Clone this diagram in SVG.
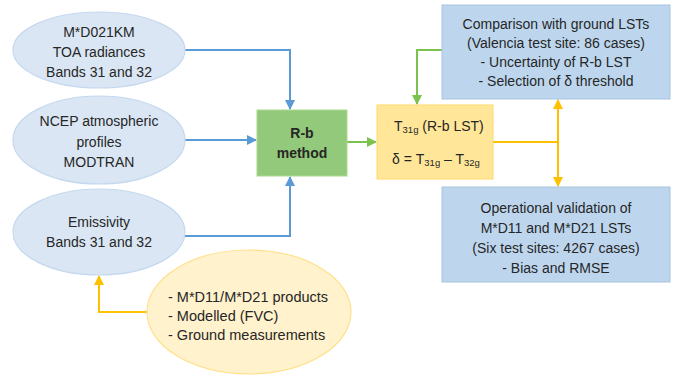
<svg xmlns="http://www.w3.org/2000/svg" width="683" height="379" viewBox="0 0 683 379">
<style>
text{font-family:"Liberation Sans",Arial,sans-serif;font-size:14px;fill:#262626;text-anchor:middle}
.ell{fill:#dae6f4;stroke:#c5d8ee;stroke-width:1.2}
.box{fill:#bdd6ee;stroke:#a9c3de;stroke-width:1}
.b{stroke:#5b9bd5;stroke-width:2;fill:none}
.g{stroke:#7cc34e;stroke-width:2;fill:none}
.y{stroke:#ffc000;stroke-width:2;fill:none}
.l{text-anchor:start}
</style>
<defs>
<marker id="ab" viewBox="0 0 10 10" refX="9" refY="5" markerWidth="10" markerHeight="10" markerUnits="userSpaceOnUse" orient="auto-start-reverse"><path d="M0,0L10,5L0,10z" fill="#5b9bd5"/></marker>
<marker id="ag" viewBox="0 0 10 10" refX="9" refY="5" markerWidth="10" markerHeight="10" markerUnits="userSpaceOnUse" orient="auto-start-reverse"><path d="M0,0L10,5L0,10z" fill="#7cc34e"/></marker>
<marker id="ay" viewBox="0 0 10 10" refX="9" refY="5" markerWidth="10" markerHeight="10" markerUnits="userSpaceOnUse" orient="auto-start-reverse"><path d="M0,0L10,5L0,10z" fill="#ffc000"/></marker>
</defs>
<g id="connectors">
<path class="b" d="M185,50H290V109" marker-end="url(#ab)"/>
<path class="b" d="M185,140H256" marker-end="url(#ab)"/>
<path class="b" d="M185,236H290V177" marker-end="url(#ab)"/>
<path class="g" d="M347,142H376" marker-end="url(#ag)"/>
<path class="g" d="M442,50H417V104" marker-end="url(#ag)"/>
<path class="y" d="M147,312H99V276" marker-end="url(#ay)"/>
<path class="y" d="M493,142H558"/>
<path class="y" d="M558,100V186" marker-start="url(#ay)" marker-end="url(#ay)"/>
</g>
<g id="n-toa">
<ellipse class="ell" cx="99" cy="50" rx="86" ry="38"/>
<text x="99" y="37">M*D021KM</text>
<text x="99" y="57">TOA radiances</text>
<text x="99" y="77">Bands 31 and 32</text>
</g>
<g id="n-ncep">
<ellipse class="ell" cx="99" cy="140" rx="86" ry="44"/>
<text x="99" y="126">NCEP atmospheric</text>
<text x="99" y="147">profiles</text>
<text x="99" y="167">MODTRAN</text>
</g>
<g id="n-emis">
<ellipse class="ell" cx="99" cy="232" rx="86" ry="43"/>
<text x="99" y="227">Emissivity</text>
<text x="99" y="247">Bands 31 and 32</text>
</g>
<g id="n-prod">
<ellipse cx="249" cy="312" rx="102" ry="62" fill="#fff2cc" stroke="#ffe08a" stroke-width="1.2"/>
<text class="l" x="168" y="302" style="font-size:14.5px">- M*D11/M*D21 products</text>
<text class="l" x="168" y="321" style="font-size:14.5px">- Modelled (FVC)</text>
<text class="l" x="168" y="340" style="font-size:14.5px">- Ground measurements</text>
</g>
<g id="n-rb">
<rect x="257" y="110" width="90" height="66" fill="#93c97a" stroke="#a9d88f" stroke-width="1"/>
<text x="302" y="138" style="font-weight:bold">R-b</text>
<text x="302" y="158" style="font-weight:bold">method</text>
</g>
<g id="n-lst">
<rect x="377" y="105" width="116" height="74" fill="#ffe699" stroke="#ffd966" stroke-width="1"/>
<text class="l" x="394" y="131">T<tspan style="font-size:9.5px" dy="2">31g</tspan><tspan dy="-2"> (R-b LST)</tspan></text>
<text class="l" x="392" y="164">δ = T<tspan style="font-size:9.5px" dy="2">31g</tspan><tspan dy="-2"> – T</tspan><tspan style="font-size:9.5px" dy="2">32g</tspan></text>
</g>
<g id="n-comp">
<rect class="box" x="442" y="5" width="228" height="94"/>
<text x="556" y="29">Comparison with ground LSTs</text>
<text x="556" y="48">(Valencia test site: 86 cases)</text>
<text x="556" y="67">- Uncertainty of R-b LST</text>
<text x="556" y="86">- Selection of δ threshold</text>
</g>
<g id="n-oper">
<rect class="box" x="442" y="187" width="228" height="95"/>
<text x="556" y="213">Operational validation of</text>
<text x="556" y="233">M*D11 and M*D21 LSTs</text>
<text x="556" y="253">(Six test sites: 4267 cases)</text>
<text x="556" y="273">- Bias and RMSE</text>
</g>
</svg>
